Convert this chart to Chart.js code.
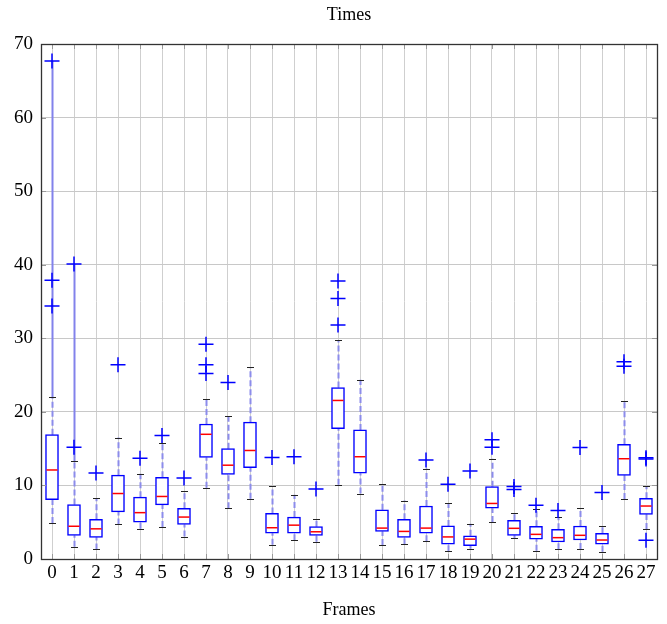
<!DOCTYPE html>
<html><head><meta charset="utf-8">
<script src="https://cdn.jsdelivr.net/npm/chart.js@4/dist/chart.umd.min.js"></script>
<style>html,body{margin:0;padding:0;background:#fff}#wrap{width:667px;height:624px}</style>
</head><body><div id="wrap"><canvas id="c" width="667" height="624"></canvas></div>
<script>
const frames = [0,1,2,3,4,5,6,7,8,9,10,11,12,13,14,15,16,17,18,19,20,21,22,23,24,25,26,27];
const q1  = [8.05,3.2,2.95,6.4,5.0,7.35,4.7,13.8,11.5,12.4,3.5,3.5,3.2,17.7,11.65,3.75,2.95,3.5,2.0,1.8,6.9,3.22,2.7,2.31,2.58,2.0,11.37,6.07];
const med = [12.1,4.45,4.1,8.9,6.3,8.5,5.7,16.95,12.75,14.75,4.25,4.6,3.7,21.55,13.9,4.2,3.75,4.2,3.0,2.7,7.55,4.17,3.35,2.9,3.22,2.58,13.63,7.2];
const q3  = [16.9,7.4,5.4,11.4,8.4,11.1,6.9,18.35,15.0,18.6,6.2,5.7,4.4,23.3,17.55,6.7,5.4,7.2,4.5,3.15,9.83,5.26,4.44,4.03,4.49,3.49,15.59,8.25];
const wLo = [4.9,1.65,1.3,4.7,4.1,4.35,3.05,9.7,6.9,8.2,1.95,2.55,2.35,10.1,8.9,1.9,2.0,2.4,1.05,1.4,5.03,2.81,1.13,1.31,1.36,1.0,8.16,4.08];
const wHi = [22.0,13.3,8.3,16.5,11.6,15.8,9.3,21.8,19.4,26.1,9.9,8.75,5.5,29.7,24.35,10.15,7.95,12.3,7.6,4.8,13.63,6.2,6.75,5.75,6.93,4.49,21.45,9.9];
// solid connector drawn above the upper whisker up to the farthest outlier (only on frames 0 and 1)
const tailTop = [67.7,40.1,null,null,null,null,null,null,null,null,null,null,null,null,null,null,null,null,null,null,null,null,null,null,null,null,null,null];
const outFrame = [0,0,0,1,1,2,3,4,5,6,7,7,7,8,10,11,12,13,13,13,17,18,19,20,20,21,21,22,23,24,25,26,26,27,27,27];
const outValue = [67.7,37.9,34.4,40.1,15.2,11.7,26.4,13.7,16.8,11.0,29.2,26.4,25.2,24.0,13.8,13.9,9.5,37.8,35.4,31.8,13.45,10.15,11.95,16.2,15.2,9.85,9.45,7.3,6.6,15.15,9.05,26.8,26.2,13.6,13.75,2.55];
const yTicks = [0,10,20,30,40,50,60,70];
const chartTitle = 'Times';
const xTitle = 'Frames';

const serif = "'Liberation Serif','Times New Roman',serif";

const boxExtras = {
  id: 'boxExtras',
  beforeDatasetsDraw(chart) {
    const {ctx, scales: {x, y}} = chart;
    ctx.save();
    frames.forEach((f, i) => {
      const px = Math.round(x.getPixelForValue(f)) + 0.5;
      if (tailTop[i] !== null) {
        ctx.strokeStyle = 'rgb(130,130,235)';
        ctx.lineWidth = 2;
        ctx.setLineDash([]);
        ctx.beginPath();
        ctx.moveTo(px, y.getPixelForValue(wHi[i]));
        ctx.lineTo(px, y.getPixelForValue(tailTop[i]));
        ctx.stroke();
      }
      ctx.strokeStyle = 'rgb(140,140,235)';
      ctx.lineWidth = 2;
      ctx.setLineDash([6, 3]);
      ctx.beginPath();
      ctx.moveTo(px, y.getPixelForValue(wLo[i]));
      ctx.lineTo(px, y.getPixelForValue(q1[i]));
      ctx.moveTo(px, y.getPixelForValue(q3[i]));
      ctx.lineTo(px, y.getPixelForValue(wHi[i]));
      ctx.stroke();
      ctx.setLineDash([]);
      ctx.strokeStyle = '#222';
      ctx.lineWidth = 1;
      ctx.beginPath();
      [wLo[i], wHi[i]].forEach(v => {
        const py = Math.round(y.getPixelForValue(v)) + 0.5;
        ctx.moveTo(px - 3.5, py);
        ctx.lineTo(px + 3.5, py);
      });
      ctx.stroke();
    });
    ctx.restore();
  },
  afterDatasetsDraw(chart) {
    const {ctx, scales: {x, y}} = chart;
    const meta = chart.getDatasetMeta(0);
    ctx.save();
    ctx.strokeStyle = '#ff0000';
    ctx.lineWidth = 1.5;
    frames.forEach((f, i) => {
      const el = meta.data[i];
      const hw = el.width / 2 - 1;
      const py = y.getPixelForValue(med[i]);
      ctx.beginPath();
      ctx.moveTo(el.x - hw, py);
      ctx.lineTo(el.x + hw, py);
      ctx.stroke();
    });
    ctx.restore();
  },
  afterDraw(chart) {
    const {ctx, chartArea: a, scales: {x, y}} = chart;
    ctx.save();
    ctx.strokeStyle = '#999';
    ctx.lineWidth = 1;
    ctx.beginPath();
    frames.forEach(f => {
      const px = Math.round(x.getPixelForValue(f)) + 0.5;
      ctx.moveTo(px, a.top); ctx.lineTo(px, a.top + 5);
      ctx.moveTo(px, a.bottom); ctx.lineTo(px, a.bottom - 5);
    });
    yTicks.forEach(v => {
      const py = Math.round(y.getPixelForValue(v)) + 0.5;
      ctx.moveTo(a.left, py); ctx.lineTo(a.left + 5, py);
      ctx.moveTo(a.right, py); ctx.lineTo(a.right - 5, py);
    });
    ctx.stroke();
    ctx.strokeStyle = '#333';
    ctx.lineWidth = 1.3;
    ctx.strokeRect(Math.round(a.left) + 0.5, Math.round(a.top) + 0.5, Math.round(a.right - a.left), Math.round(a.bottom - a.top));
    ctx.restore();
  }
};

new Chart(document.getElementById('c'), {
  type: 'bar',
  data: {
    datasets: [
      {
        type: 'bar',
        data: frames.map((f, i) => ({x: f, y: [q1[i], q3[i]]})),
        backgroundColor: '#ffffff',
        borderColor: '#0000ff',
        borderWidth: 1.5,
        borderSkipped: false,
        barThickness: 13,
        xAxisID: 'x', yAxisID: 'y',
        order: 2
      },
      {
        type: 'scatter',
        data: outFrame.map((f, i) => ({x: f, y: outValue[i]})),
        pointStyle: 'cross',
        pointRadius: 7.5,
        pointBorderColor: '#0000ff',
        borderColor: '#0000ff',
        pointBorderWidth: 1.5,
        showLine: false,
        xAxisID: 'x', yAxisID: 'y',
        order: 1
      }
    ]
  },
  options: {
    responsive: false,
    devicePixelRatio: 1,
    animation: false,
    layout: {padding: {left: 0, right: 10, top: 0, bottom: 0}},
    plugins: {legend: {display: false}, tooltip: {enabled: false}, title: {display: false}},
    scales: {
      x: {
        type: 'linear', position: 'bottom', min: -0.5, max: 27.5, offset: false,
        afterBuildTicks: s => { s.ticks = frames.map(v => ({value: v})); },
        afterFit: s => { s.height = 65; },
        grid: {offset: false, color: '#cfcfcf', lineWidth: 1, drawTicks: false},
        border: {display: false},
        ticks: {padding: 3, color: '#000', font: {family: serif, size: 19}, maxRotation: 0, autoSkip: false,
          callback: v => String(v)},
        title: {display: true, text: xTitle, color: '#000', font: {family: serif, size: 18}, padding: {top: 0, bottom: 3}}
      },
      x2: {
        type: 'linear', position: 'top', min: -0.5, max: 27.5,
        afterFit: s => { s.height = 44; },
        grid: {display: false, drawTicks: false},
        border: {display: false},
        ticks: {display: false},
        title: {display: true, text: chartTitle, color: '#000', font: {family: serif, size: 18}, padding: {top: 4, bottom: 0}}
      },
      y: {
        type: 'linear', min: 0, max: 70,
        afterBuildTicks: s => { s.ticks = yTicks.map(v => ({value: v})); },
        afterFit: s => { s.width = 41; },
        grid: {color: '#c8c8c8', lineWidth: 1, drawTicks: false},
        border: {display: false},
        ticks: {padding: 8, color: '#000', font: {family: serif, size: 19}}
      }
    }
  },
  plugins: [boxExtras]
});
</script>
</body></html>
